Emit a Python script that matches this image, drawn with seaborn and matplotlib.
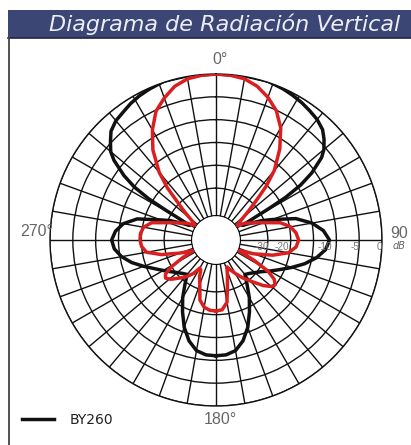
import numpy as np
import pandas as pd
import matplotlib
matplotlib.use("Agg")
import matplotlib.pyplot as plt
import matplotlib.transforms as mtransforms
import seaborn as sns
from matplotlib.patches import Rectangle
from matplotlib.lines import Line2D

# ---------------- data (angle in degrees, clockwise from top; level in grid-ring units 0..6) -------------
title = "Diagrama de Radiación Vertical"
series_names = ["BY260", "Red"]

black_angles = [-180, -175, -170, -165, -160, -155, -150, -145, -140, -135, -130, -125, -120, -115,
                -110, -105, -100, -95, -90, -85, -80, -75, -70, -67, -64, -61, -60, -59.3, -58.5, -57,
                -55, -52, -50, -47, -44, -40, -36, -32, -28, -24, -18, -10, 0, 10, 18, 24, 28, 32, 36, 40,
                44, 47, 50, 52, 55, 57, 58.5, 59.3, 60, 61, 64, 67, 70, 75, 80, 85, 90, 95, 100, 105, 110,
                115, 120, 125, 130, 135, 140, 145, 150, 155, 160, 165, 170, 175, 180]
black_levels = [3.8, 3.78, 3.65, 3.3, 2.8, 2.2, 1.65, 1.1, 0.7, 0.8, 0.95, 1.15, 1.4, 1.7,
                2.1, 2.55, 2.93, 3.2, 3.3, 3.15, 2.85, 2.3, 1.3, 0.9, 0.4, 0.05, 0.5, 1.3, 2.2, 3.0,
                3.65, 4.4, 4.75, 5.05, 5.35, 5.55, 5.65, 5.78, 5.88, 5.95, 6.05, 6.03, 6.0, 6.03, 6.05, 5.97, 5.9, 5.82, 5.72, 5.62,
                5.45, 5.2, 4.9, 4.6, 3.85, 3.15, 2.3, 1.4, 0.55, 0.05, 0.4, 0.9, 1.35, 2.35, 3.0, 3.45, 3.7, 3.55, 3.2, 2.75, 2.25,
                1.8, 1.45, 1.15, 0.95, 0.8, 0.7, 1.1, 1.65, 2.2, 2.8, 3.3, 3.65, 3.78, 3.8]

red_angles = [-180, -175, -170, -165, -160, -156, -153, -150, -146, -141, -136, -131, -127, -124, -121,
              -118, -115, -113, -110, -105, -100, -95, -90, -85, -80, -75, -70, -65, -60, -55,
              -52, -48, -45, -43, -40, -35, -30, -25, -20, -15, -10, -5, 0, 5, 10, 15, 20, 25, 30,
              35, 40, 43, 45, 48, 52, 56, 60, 65, 70, 75, 80, 85, 90, 95, 100, 105, 110, 113, 115,
              118, 121, 124, 127, 130, 134, 139, 145, 150, 155, 158, 162, 166, 170, 175, 180]
red_levels = [1.84, 1.82, 1.72, 1.45, 0.8, 0.5, 0.2, 0.15, 0.5, 0.8, 1.05, 1.35, 1.5, 1.4, 1.0,
              0.4, -0.2, 0.0, 0.4, 1.2, 1.82, 2.0, 2.06, 2.05, 1.95, 1.65, 0.95, 0.5, 0.2, -0.15,
              0.0, 0.6, 1.2, 1.85, 2.6, 3.55, 4.3, 4.95, 5.35, 5.7, 5.9, 5.97, 6.0, 5.97, 5.9, 5.7, 5.38, 4.98, 4.4,
              3.6, 2.7, 1.95, 1.35, 0.7, 0.1, -0.15, 0.2, 0.5, 0.95, 1.65, 2.05, 2.25, 2.35, 2.25, 1.95, 1.3, 0.5, 0.0, -0.2,
              0.6, 1.4, 1.8, 1.98, 1.9, 1.6, 1.15, 0.75, 0.42, 0.15, 0.0, 0.35, 0.8, 1.5, 1.8, 1.84]

ring_levels = [1, 2, 3, 4, 5, 6]
db_labels = ["-30", "-20", "-10", "-5", "0"]
db_label_levels = [0.75, 1.62, 3.5, 4.8, 5.9]

# ---------------- figure ----------------
fig = plt.figure(figsize=(4.11, 4.45), dpi=100)
fig.patch.set_facecolor("white")
W, H = 411, 445

# header bar
fig.patches.append(Rectangle((8 / W, 1 - 38 / H), 1 - 8 / W, 28 / H, transform=fig.transFigure,
                             facecolor="#3b4675", edgecolor="none", zorder=0))
fig.add_artist(Line2D([8 / W, 1], [1 - 38 / H, 1 - 38 / H], transform=fig.transFigure,
                      color="#1e2444", lw=1.2))
fig.text(225 / W, 1 - 24 / H, title, ha="center", va="center", fontsize=16,
         style="italic", color="#eceef4", family="DejaVu Sans")
# left border line
fig.add_artist(Line2D([9 / W, 9 / W], [0, 1 - 38 / H], transform=fig.transFigure,
                      color="#444444", lw=1.3))

# polar axes: center (216, 240), outer radius 166 px
R = 166
cx, cy = 216, 240
ax = fig.add_axes([(cx - R) / W, (H - cy - R) / H, 2 * R / W, 2 * R / H], projection="polar")
ax.set_theta_zero_location("N")
ax.set_theta_direction(-1)
ax.set_rorigin(-1.27)
ax.set_ylim(-0.2, 6.0)
ax.set_thetagrids(np.arange(0, 360, 10), labels=[])
ax.set_rgrids(ring_levels, labels=[])
ax.grid(True, color="#111111", lw=1.0)
ax.spines["polar"].set_color("#111111")
ax.spines["polar"].set_linewidth(1.0)
ax.spines["inner"].set_visible(False)
ax.tick_params(length=0)

df_b = pd.DataFrame({"theta": np.deg2rad(black_angles), "r": black_levels})
df_r = pd.DataFrame({"theta": np.deg2rad(red_angles), "r": red_levels})
sns.lineplot(data=df_b, x="theta", y="r", ax=ax, sort=False, estimator=None,
             color="#111111", lw=2.5, label=series_names[0], zorder=3)
sns.lineplot(data=df_r, x="theta", y="r", ax=ax, sort=False, estimator=None,
             color="#d91f1f", lw=2.5, label=series_names[1], zorder=4)
ax.set_xlabel("")
ax.set_ylabel("")

# dB tick labels along the 90° axis
tick_trans = mtransforms.offset_copy(ax.transData, fig=fig, x=0, y=-7, units="dots")
for lab, lev in zip(db_labels, db_label_levels):
    ax.text(np.pi / 2, lev, lab, transform=tick_trans, ha="center", va="center",
            fontsize=7.2, color="#777777", zorder=6, clip_on=False,
            family="Liberation Sans")

# angle labels
lab_kw = dict(color="#666666", fontsize=11.5, family="Liberation Sans", va="center")
fig.text(220 / W, 1 - 60 / H, "0°", ha="center", **lab_kw)
fig.text(220 / W, 1 - 420 / H, "180°", ha="center", **lab_kw)
fig.text(53 / W, 1 - 232 / H, "270°", ha="right", **lab_kw)
fig.text(390 / W, 1 - 233 / H, "90", ha="left", **lab_kw)
fig.text(393 / W, 1 - 246 / H, "dB", ha="left", va="center", fontsize=7,
         style="italic", color="#666666")

# legend (only BY260 shown)
handles, labels = ax.get_legend_handles_labels()
ax.legend(handles[:1], labels[:1], loc="center left",
          bbox_to_anchor=(22 / W, 1 - 420 / H), bbox_transform=fig.transFigure,
          frameon=False, handlelength=2.3, handletextpad=1.1, borderpad=0,
          borderaxespad=0, prop={"size": 10, "family": "DejaVu Sans"},
          labelcolor="#222222")

fig.savefig("out.png", dpi=100)
